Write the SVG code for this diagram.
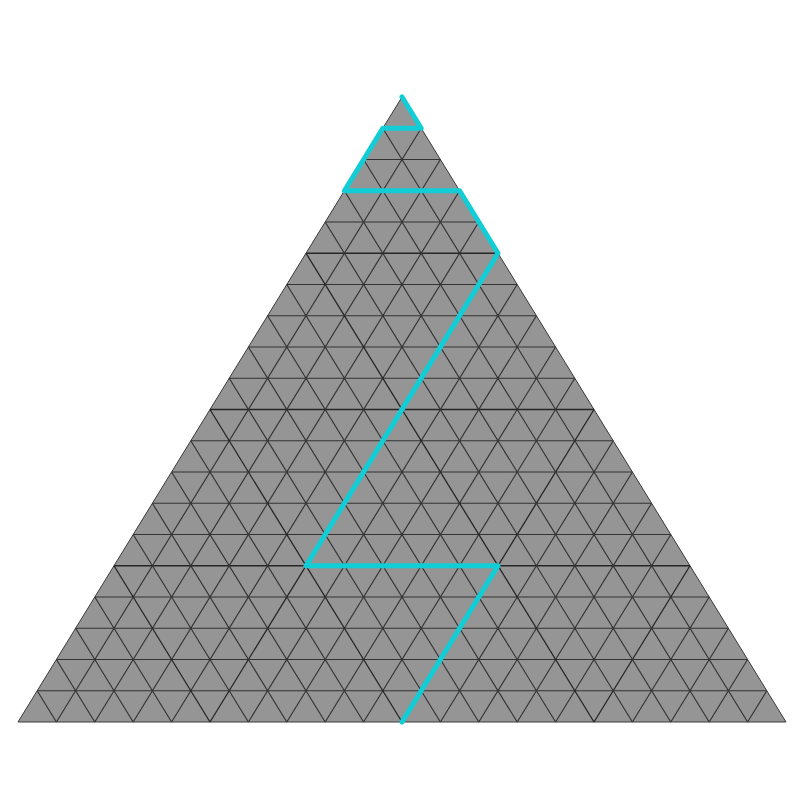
<svg xmlns="http://www.w3.org/2000/svg" width="800" height="800" viewBox="0 0 800 800">
<style>
.tri{fill:#959595;stroke:#3a3a3a;stroke-width:1}
.g line{stroke:#333333;stroke-width:1.15}
.g line.c{stroke:#262626;stroke-width:1.3}
.path{fill:none;stroke:#12cdd6;stroke-width:5;stroke-linejoin:round;stroke-linecap:round}
</style>
<rect width="800" height="800" fill="#ffffff"/>
<polygon class="tri" points="402,97 786,722 18,722"/>
<g class="g" id="grid-h">
<line x1="382.8" y1="128.25" x2="421.2" y2="128.25"/>
<line x1="363.6" y1="159.5" x2="440.4" y2="159.5"/>
<line x1="344.4" y1="190.75" x2="459.6" y2="190.75"/>
<line x1="325.2" y1="222" x2="478.8" y2="222"/>
<line class="c" x1="306" y1="253.25" x2="498" y2="253.25"/>
<line x1="286.8" y1="284.5" x2="517.2" y2="284.5"/>
<line x1="267.6" y1="315.75" x2="536.4" y2="315.75"/>
<line x1="248.4" y1="347" x2="555.6" y2="347"/>
<line x1="229.2" y1="378.25" x2="574.8" y2="378.25"/>
<line class="c" x1="210" y1="409.5" x2="594" y2="409.5"/>
<line x1="190.8" y1="440.75" x2="613.2" y2="440.75"/>
<line x1="171.6" y1="472" x2="632.4" y2="472"/>
<line x1="152.4" y1="503.25" x2="651.6" y2="503.25"/>
<line x1="133.2" y1="534.5" x2="670.8" y2="534.5"/>
<line class="c" x1="114" y1="565.75" x2="690" y2="565.75"/>
<line x1="94.8" y1="597" x2="709.2" y2="597"/>
<line x1="75.6" y1="628.25" x2="728.4" y2="628.25"/>
<line x1="56.4" y1="659.5" x2="747.6" y2="659.5"/>
<line x1="37.2" y1="690.75" x2="766.8" y2="690.75"/>
</g>
<g class="g" id="grid-a">
<line x1="421.2" y1="128.25" x2="56.4" y2="722"/>
<line x1="440.4" y1="159.5" x2="94.8" y2="722"/>
<line x1="459.6" y1="190.75" x2="133.2" y2="722"/>
<line x1="478.8" y1="222" x2="171.6" y2="722"/>
<line class="c" x1="498" y1="253.25" x2="210" y2="722"/>
<line x1="517.2" y1="284.5" x2="248.4" y2="722"/>
<line x1="536.4" y1="315.75" x2="286.8" y2="722"/>
<line x1="555.6" y1="347" x2="325.2" y2="722"/>
<line x1="574.8" y1="378.25" x2="363.6" y2="722"/>
<line class="c" x1="594" y1="409.5" x2="402" y2="722"/>
<line x1="613.2" y1="440.75" x2="440.4" y2="722"/>
<line x1="632.4" y1="472" x2="478.8" y2="722"/>
<line x1="651.6" y1="503.25" x2="517.2" y2="722"/>
<line x1="670.8" y1="534.5" x2="555.6" y2="722"/>
<line class="c" x1="690" y1="565.75" x2="594" y2="722"/>
<line x1="709.2" y1="597" x2="632.4" y2="722"/>
<line x1="728.4" y1="628.25" x2="670.8" y2="722"/>
<line x1="747.6" y1="659.5" x2="709.2" y2="722"/>
<line x1="766.8" y1="690.75" x2="747.6" y2="722"/>
</g>
<g class="g" id="grid-b">
<line x1="382.8" y1="128.25" x2="747.6" y2="722"/>
<line x1="363.6" y1="159.5" x2="709.2" y2="722"/>
<line x1="344.4" y1="190.75" x2="670.8" y2="722"/>
<line x1="325.2" y1="222" x2="632.4" y2="722"/>
<line class="c" x1="306" y1="253.25" x2="594" y2="722"/>
<line x1="286.8" y1="284.5" x2="555.6" y2="722"/>
<line x1="267.6" y1="315.75" x2="517.2" y2="722"/>
<line x1="248.4" y1="347" x2="478.8" y2="722"/>
<line x1="229.2" y1="378.25" x2="440.4" y2="722"/>
<line class="c" x1="210" y1="409.5" x2="402" y2="722"/>
<line x1="190.8" y1="440.75" x2="363.6" y2="722"/>
<line x1="171.6" y1="472" x2="325.2" y2="722"/>
<line x1="152.4" y1="503.25" x2="286.8" y2="722"/>
<line x1="133.2" y1="534.5" x2="248.4" y2="722"/>
<line class="c" x1="114" y1="565.75" x2="210" y2="722"/>
<line x1="94.8" y1="597" x2="171.6" y2="722"/>
<line x1="75.6" y1="628.25" x2="133.2" y2="722"/>
<line x1="56.4" y1="659.5" x2="94.8" y2="722"/>
<line x1="37.2" y1="690.75" x2="56.4" y2="722"/>
</g>
<g id="connectors">
<polyline class="path" points="402,97 421.2,128.25 382.8,128.25 344.4,190.75 459.6,190.75 498,253.25 306,565.75 498,565.75 402,722"/>
</g>
</svg>
